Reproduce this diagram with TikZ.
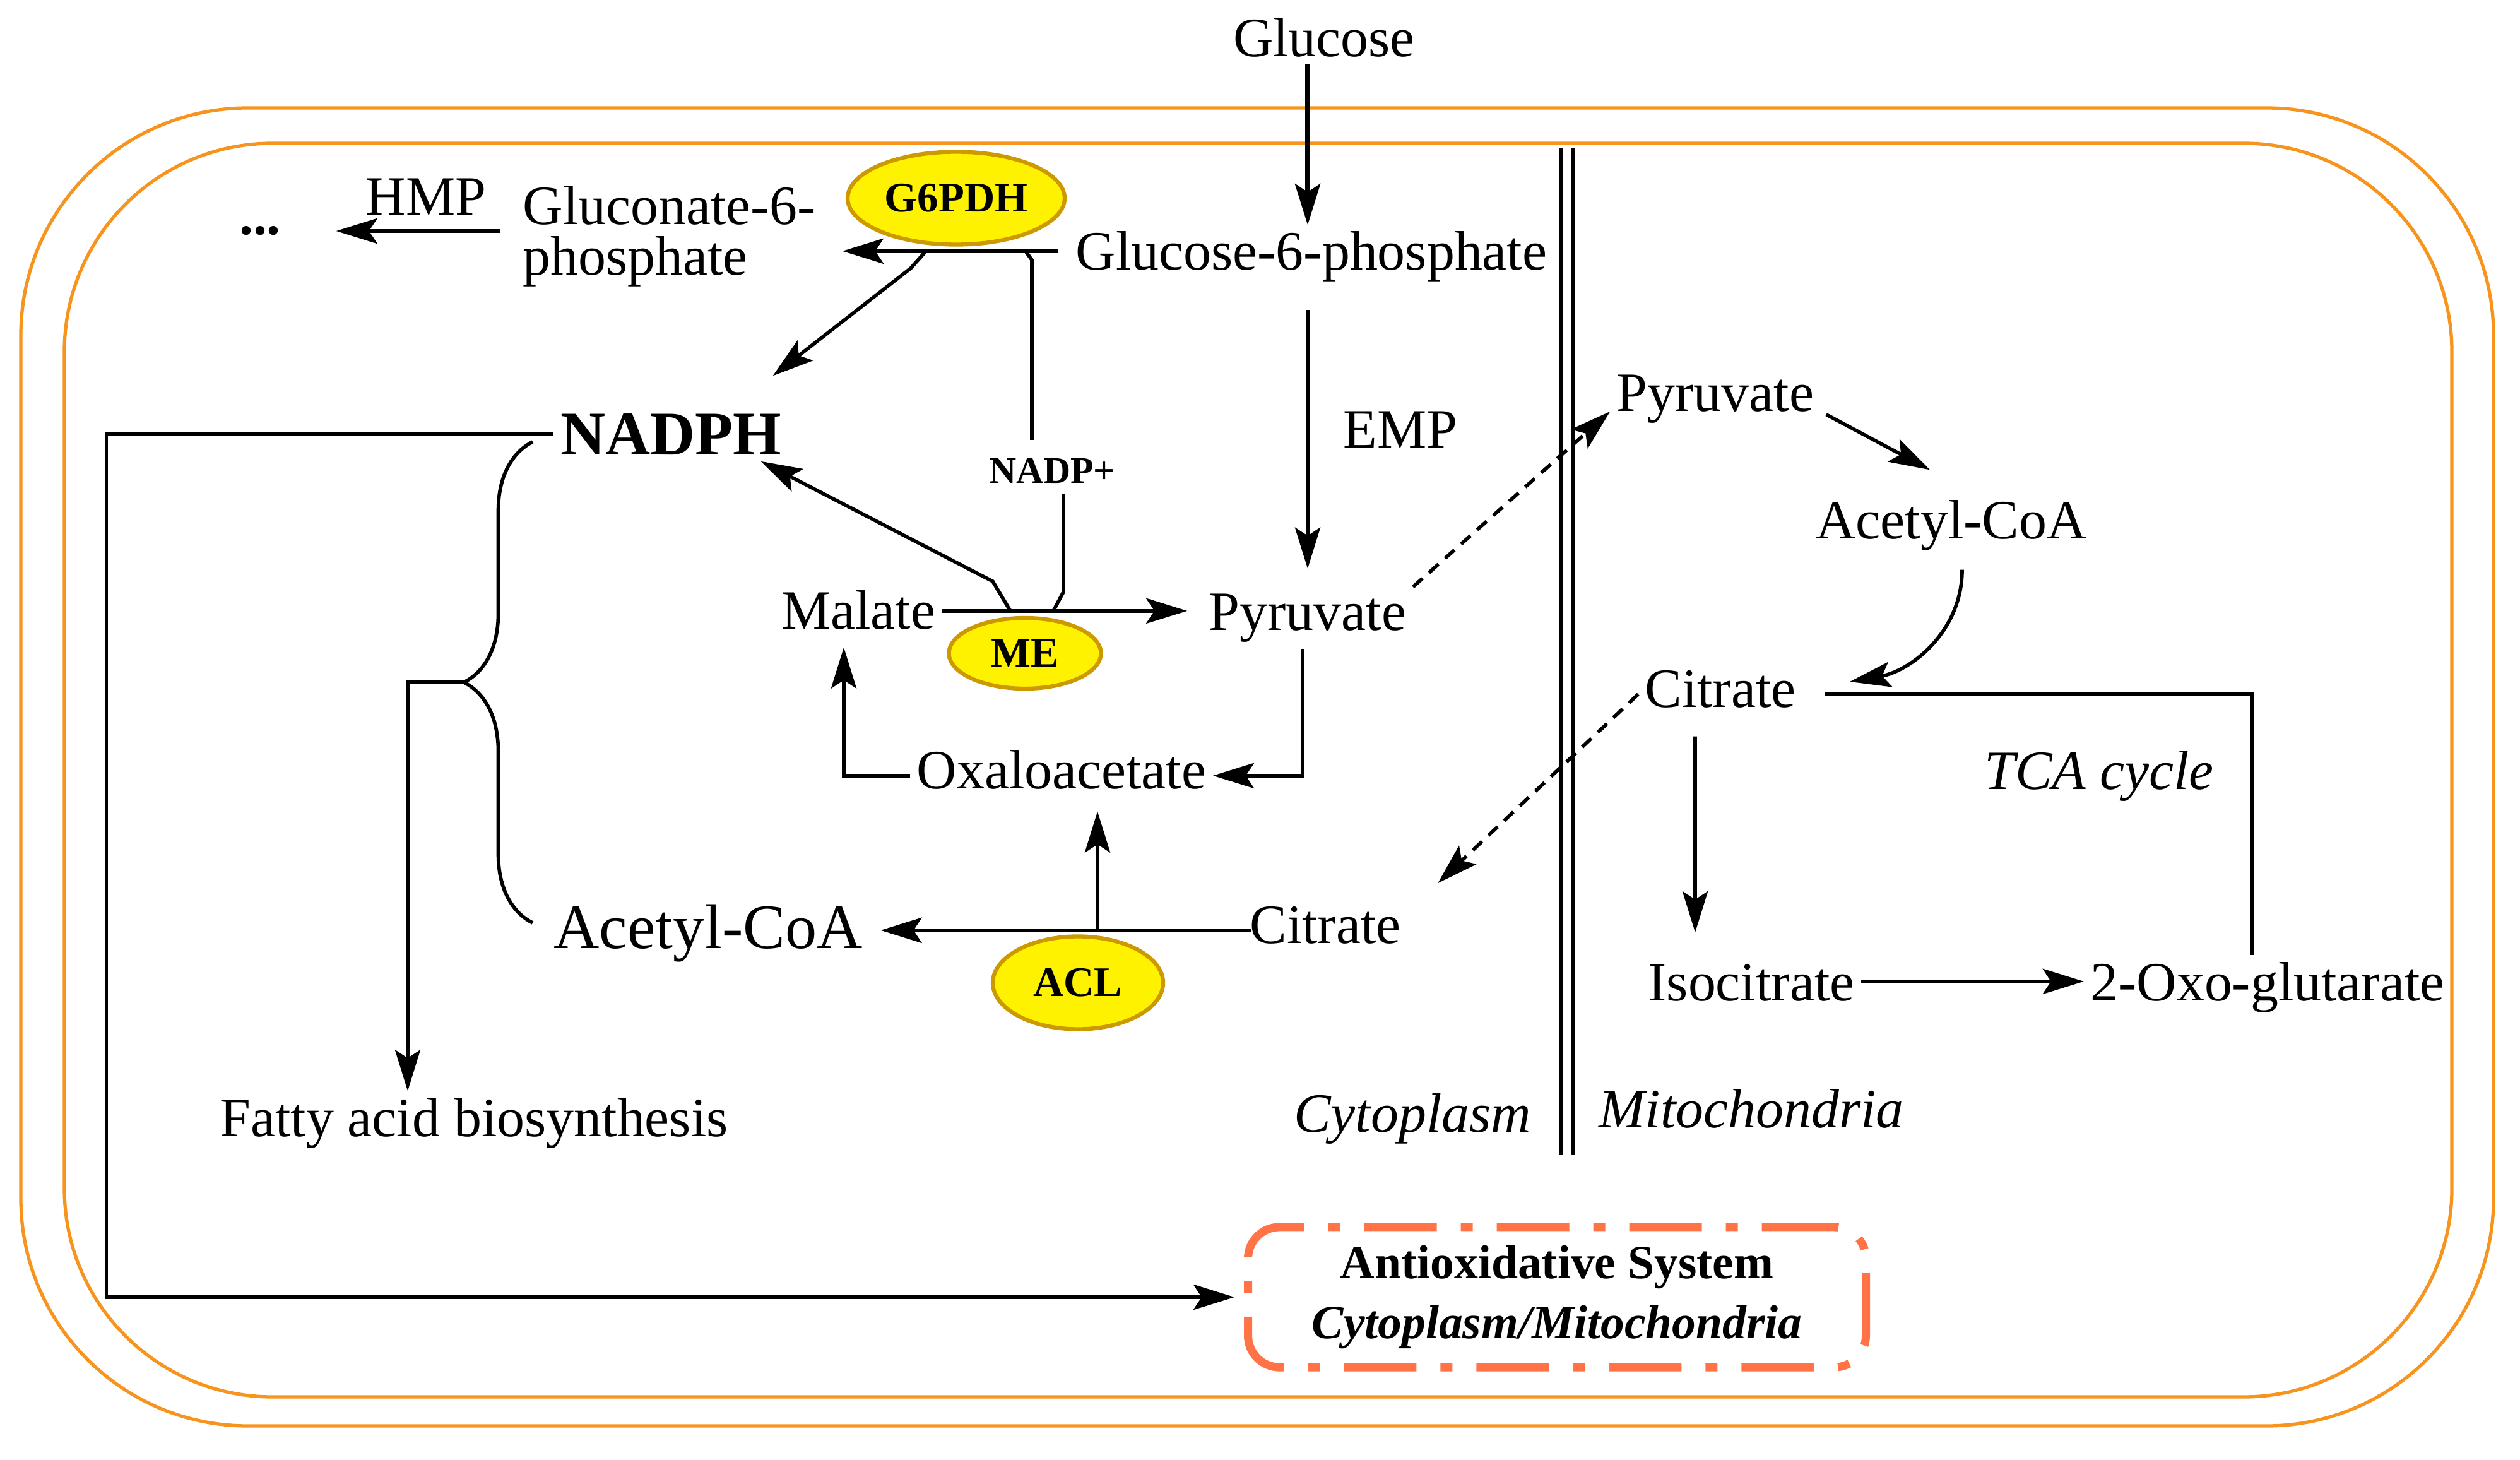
\documentclass[tikz,border=0pt]{standalone}
\usepackage{fontspec}
\setmainfont{Liberation Serif}
\usepackage{tikz}
\usetikzlibrary{shapes.geometric, arrows.meta, decorations.pathreplacing, calc}

\definecolor{cellorange}{RGB}{247,148,30}
\definecolor{enzgold}{RGB}{204,153,0}
\definecolor{antired}{RGB}{255,115,70}

\begin{document}
\fontsize{25}{30}\selectfont
\begin{tikzpicture}[
    lbl/.style={anchor=base, inner sep=1mm, font=\fontsize{25}{30}\selectfont},
    enzyme/.style={ellipse, draw=enzgold, fill=yellow, line width=1.8pt, inner sep=0pt, font=\bfseries\fontsize{19}{22}\selectfont},
    flow/.style={line width=1.6pt, -{Stealth[length=6.5mm, width=4mm, inset=1.3mm]}},
    link/.style={line width=1.6pt},
    transport/.style={flow, dash pattern=on 2mm off 1.4mm},
    cellwall/.style={draw=cellorange, line width=1.5pt},
    antibox/.style={draw=antired, line width=3.7pt, rounded corners=5mm, dash pattern=on 11.5mm off 3.8mm on 1.9mm off 3.8mm, minimum width=9.79cm, minimum height=2.16cm, align=center, font=\bfseries\fontsize{21.5}{27}\selectfont}
]
\useasboundingbox (0,0) rectangle (39.93,-23.13);

% Membranes
\draw[cellwall, rounded corners=3.6cm] (0.33,-1.71) rectangle (39.51,-22.59);
\draw[cellwall, rounded corners=3.3cm] (1.02,-2.27) rectangle (38.85,-22.13);
\draw[link] (24.73,-2.35) -- (24.73,-18.30);
\draw[link] (24.93,-2.35) -- (24.93,-18.30);

% Cytoplasm metabolites
\node[lbl] (glucose) at (20.98,-0.90) {Glucose};
\node[lbl] (g6p) at (20.78,-4.28) {Glucose-6-phosphate};
\node[lbl, anchor=west, align=left, font=\fontsize{25}{22.8}\selectfont] (gluc6p) at (8.18,-3.745) {Gluconate-6-\\phosphate};
\node[lbl] (hmp) at (6.75,-3.41) {HMP};
\node[lbl, anchor=center, font=\bfseries\fontsize{25}{30}\selectfont] (dots) at (4.12,-3.66) {...};
\node[lbl, font=\bfseries\fontsize{28}{32}\selectfont] (nadph) at (10.63,-7.20) {NADPH};
\node[lbl, font=\bfseries\fontsize{17}{20}\selectfont] (nadp) at (16.67,-7.65) {NADP+};
\node[lbl] (emp) at (22.19,-7.09) {EMP};
\node[lbl] (malate) at (13.60,-9.96) {Malate};
\node[lbl] (pyrL) at (20.72,-9.98) {Pyruvate};
\node[lbl] (oxalo) at (16.82,-12.49) {Oxaloacetate};
\node[lbl, font=\fontsize{28.5}{32}\selectfont] (acoaL) at (11.22,-15.02) {Acetyl-CoA};
\node[lbl] (citL) at (21.00,-14.94) {Citrate};
\node[lbl] (fatty) at (7.51,-18.00) {Fatty acid biosynthesis};
\node[lbl, font=\itshape\fontsize{25}{30}\selectfont] (cyto) at (22.38,-17.93) {Cytoplasm};

% Mitochondria metabolites
\node[lbl] (pyrR) at (27.18,-6.52) {Pyruvate};
\node[lbl] (acoaR) at (30.92,-8.53) {Acetyl-CoA};
\node[lbl] (citR) at (27.26,-11.20) {Citrate};
\node[lbl, font=\itshape\fontsize{25}{30}\selectfont] (tca) at (33.26,-12.50) {TCA cycle};
\node[lbl] (iso) at (27.75,-15.85) {Isocitrate};
\node[lbl] (oxo) at (35.93,-15.85) {2-Oxo-glutarate};
\node[lbl, font=\itshape\fontsize{25}{30}\selectfont] (mito) at (27.75,-17.86) {Mitochondria};

% Enzymes
\node[enzyme, minimum width=3.44cm, minimum height=1.47cm] (g6pdh) at (15.15,-3.14) {G6PDH};
\node[enzyme, minimum width=2.41cm, minimum height=1.12cm] (me) at (16.24,-10.35) {ME};
\node[enzyme, minimum width=2.70cm, minimum height=1.47cm] (acl) at (17.08,-15.57) {ACL};

\node[antibox] (antiox) at (24.67,-20.55) {Antioxidative System\\\textit{Cytoplasm/Mitochondria}};

% Junctions
\coordinate (g6pL) at ([xshift=-1.8mm, yshift=1mm]g6p.mid west);
\coordinate (malR) at ([yshift=0.8mm]malate.mid east);
\coordinate (isoR) at ([yshift=1mm]iso.mid east);
\coordinate (jG) at (14.67,-3.98);
\coordinate (jNme) at (16.69,-9.68);
\coordinate (jMe) at (16.01,-9.68);
\coordinate (jA) at (17.39,-14.74);
\coordinate (jC) at (29.31,-10.80);
\coordinate (braceBot) at (8.44,-14.62);
\coordinate (braceTop) at (8.44,-7.00);
\coordinate (braceTip) at (7.35,-10.81);

% Glycolysis and HMP
\draw[flow, line width=2.2pt] (glucose.south -| pyrL) -- (g6p.north -| pyrL);
\draw[flow, shorten <=3.4mm, shorten >=2.9mm] (g6p.south -| pyrL) -- (pyrL.north);
\draw[flow, shorten >=3.2mm] (g6pL) -- (g6pL -| gluc6p.east);
\draw[flow, shorten <=2.5mm, shorten >=7.7mm] (gluc6p.west |- dots) -- (dots.east);
\draw[flow] (jG) -- ++(-0.24,-0.27) -- ([shift={(-0.24,0.49)}]nadph.north east);
\draw[link] ([xshift=-3.2mm, yshift=1.8mm]nadp.north) -- ++(0,2.85) -- ++(-0.1,0.14);

% Malic enzyme cycle
\draw[flow, shorten >=2.4mm] (malR) -- (malR -| pyrL.west);
\draw[link] ([xshift=1.8mm, yshift=-0.7mm]nadp.south) -- ++(0,-1.55) -- (jNme);
\draw[flow] (jMe) -- ++(-0.28,0.47) -- ([xshift=-4.3mm]nadph.south east);
\draw[flow] ([xshift=-0.8mm]pyrL.south) |- (oxalo.mid east);
\draw[flow, shorten >=1.8mm] (oxalo.mid west) -| ([xshift=-2.3mm]malate.south);
\draw[flow, shorten <=-1.3mm, shorten >=1.8mm] (citL.mid west) -- (citL.mid west -| acoaL.east);
\draw[flow, shorten >=2.5mm] (jA) -- (jA |- oxalo.south);

% Transport across mitochondrial membrane
\draw[transport] (pyrL.north east) -- (pyrR.base west);
\draw[transport] (citR.mid west) -- ([shift={(0.48,0.26)}]citL.north east);

% TCA cycle
\draw[flow, shorten <=1mm] (pyrR.base east) -- ([shift={(-0.34,0.37)}]acoaR.north);
\draw[flow] ([shift={(0.17,-0.2)}]acoaR.south) to[out=-90, in=10] (jC);
\draw[flow, shorten <=3.5mm, shorten >=3.9mm] ([xshift=-4mm]citR.south) -- ([xshift=-8.9mm]iso.north);
\draw[flow] (isoR) -- (isoR -| oxo.west);
\draw[link, shorten >=3.6mm] ([xshift=-2.5mm]oxo.north) |- (citR.mid east);

% NADPH use
\draw[flow, shorten >=1.5mm] (nadph.west) -- ++(-7.09,0) |- (antiox.west);
\draw[link, decorate, decoration={brace, amplitude=10.9mm}] (braceBot) -- (braceTop);
\draw[flow] (braceTip) -| ([xshift=-10.5mm]fatty.north);

\end{tikzpicture}
\end{document}
